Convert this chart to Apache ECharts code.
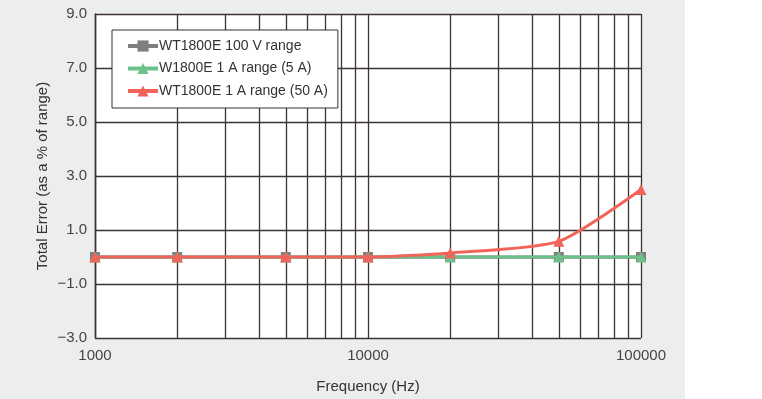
<!DOCTYPE html>
<html>
<head>
<meta charset="utf-8">
<script src="https://cdn.jsdelivr.net/npm/echarts@6/dist/echarts.min.js"></script>
<style>
  html, body { margin: 0; padding: 0; background: #ffffff; }
  #bg { position: absolute; left: 0; top: 0; width: 685px; height: 399px; background: #eceeee; }
  #chart { position: absolute; left: 0; top: 0; width: 762px; height: 399px; }
</style>
</head>
<body>
<div id="bg"></div>
<div id="chart"></div>
<script>
// Data
const frequencies = [1000, 2000, 5000, 10000, 20000, 50000, 100000];
const wt100V = [0, 0, 0, 0, 0, 0, 0];
const w1A5A = [0, 0, 0, 0, 0, 0, 0];
const wt1A50A = [0, 0, 0, 0, 0.15, 0.58, 2.5];
const seriesNames = ['WT1800E 100 V range', 'W1800E 1 A range (5 A)', 'WT1800E 1 A range (50 A)'];
const minorGridFreqs = [2000, 3000, 4000, 5000, 6000, 7000, 8000, 9000,
                        20000, 30000, 40000, 50000, 60000, 70000, 80000, 90000];
const yTicks = { min: -3, max: 9, interval: 2 };

const pair = arr => frequencies.map((f, i) => [f, arr[i]]);
const gridColor = '#3b3431';
const font = 'Liberation Sans, Arial, Helvetica, sans-serif';
const colors = ['#7f7f7f', '#6cc08a', '#f0645a'];

const chart = echarts.init(document.getElementById('chart'), null, { renderer: 'canvas' });
chart.setOption({
  backgroundColor: 'transparent',
  animation: false,
  textStyle: { fontFamily: font },
  grid: { left: 95, right: 121, top: 14, bottom: 61, show: true, backgroundColor: '#ffffff', borderWidth: 0 },
  legend: {
    left: 112, top: 30, orient: 'vertical',
    backgroundColor: '#ffffff', borderColor: '#333333', borderWidth: 1,
    padding: [9, 10, 10, 14], itemGap: 8.5, itemWidth: 30, itemHeight: 14,
    textStyle: { fontSize: 14, color: '#333333', fontFamily: font, padding: [0, 0, 0, -4] },
    data: seriesNames.map((n, i) => ({ name: n, lineStyle: { width: 4, color: colors[i] } }))
  },
  xAxis: {
    type: 'log', logBase: 10, min: 1000, max: 100000,
    name: 'Frequency (Hz)', nameLocation: 'middle', nameGap: 41,
    nameTextStyle: { fontSize: 15, color: '#333333', fontFamily: font },
    axisLine: { show: true, lineStyle: { color: gridColor, width: 1.3 } },
    axisTick: { show: false },
    axisLabel: { fontSize: 15, color: '#444444', margin: 10, fontFamily: font,
      formatter: v => String(Math.round(v)) },
    splitLine: { show: true, lineStyle: { color: gridColor, width: 1.3 } }
  },
  yAxis: {
    type: 'value', min: yTicks.min, max: yTicks.max, interval: yTicks.interval,
    name: 'Total Error (as a % of range)', nameLocation: 'middle', nameGap: 45,
    nameMoveOverlap: false,
    nameTextStyle: { fontSize: 15, color: '#333333', fontFamily: font },
    axisLine: { show: true, lineStyle: { color: gridColor, width: 1.3 } },
    axisTick: { show: false },
    axisLabel: {
      fontSize: 15, color: '#444444', margin: 8, fontFamily: font,
      formatter: v => (v < 0 ? '\u2212' + Math.abs(v).toFixed(1) : v.toFixed(1))
    },
    splitLine: { show: true, lineStyle: { color: gridColor, width: 1.3 } }
  },
  series: [
    {
      type: 'line', name: '_minorGrid', data: [], z: 1, silent: true,
      markLine: {
        silent: true, symbol: 'none', z: 1, animation: false,
        label: { show: false },
        lineStyle: { color: gridColor, width: 1.3, type: 'solid' },
        data: minorGridFreqs.map(f => ({ xAxis: f }))
      }
    },
    {
      type: 'line', name: seriesNames[0], data: pair(wt100V), z: 3,
      symbol: 'rect', symbolSize: 10,
      lineStyle: { color: colors[0], width: 3 },
      itemStyle: { color: colors[0] }
    },
    {
      type: 'line', name: seriesNames[1], data: pair(w1A5A), z: 4,
      symbol: 'triangle', symbolSize: 11,
      lineStyle: { color: colors[1], width: 3 },
      itemStyle: { color: colors[1] }
    },
    {
      type: 'line', name: seriesNames[2], data: pair(wt1A50A), z: 5,
      symbol: 'triangle', symbolSize: 11, smooth: 0.22,
      lineStyle: { color: colors[2], width: 3 },
      itemStyle: { color: colors[2] }
    }
  ]
});
</script>
</body>
</html>
